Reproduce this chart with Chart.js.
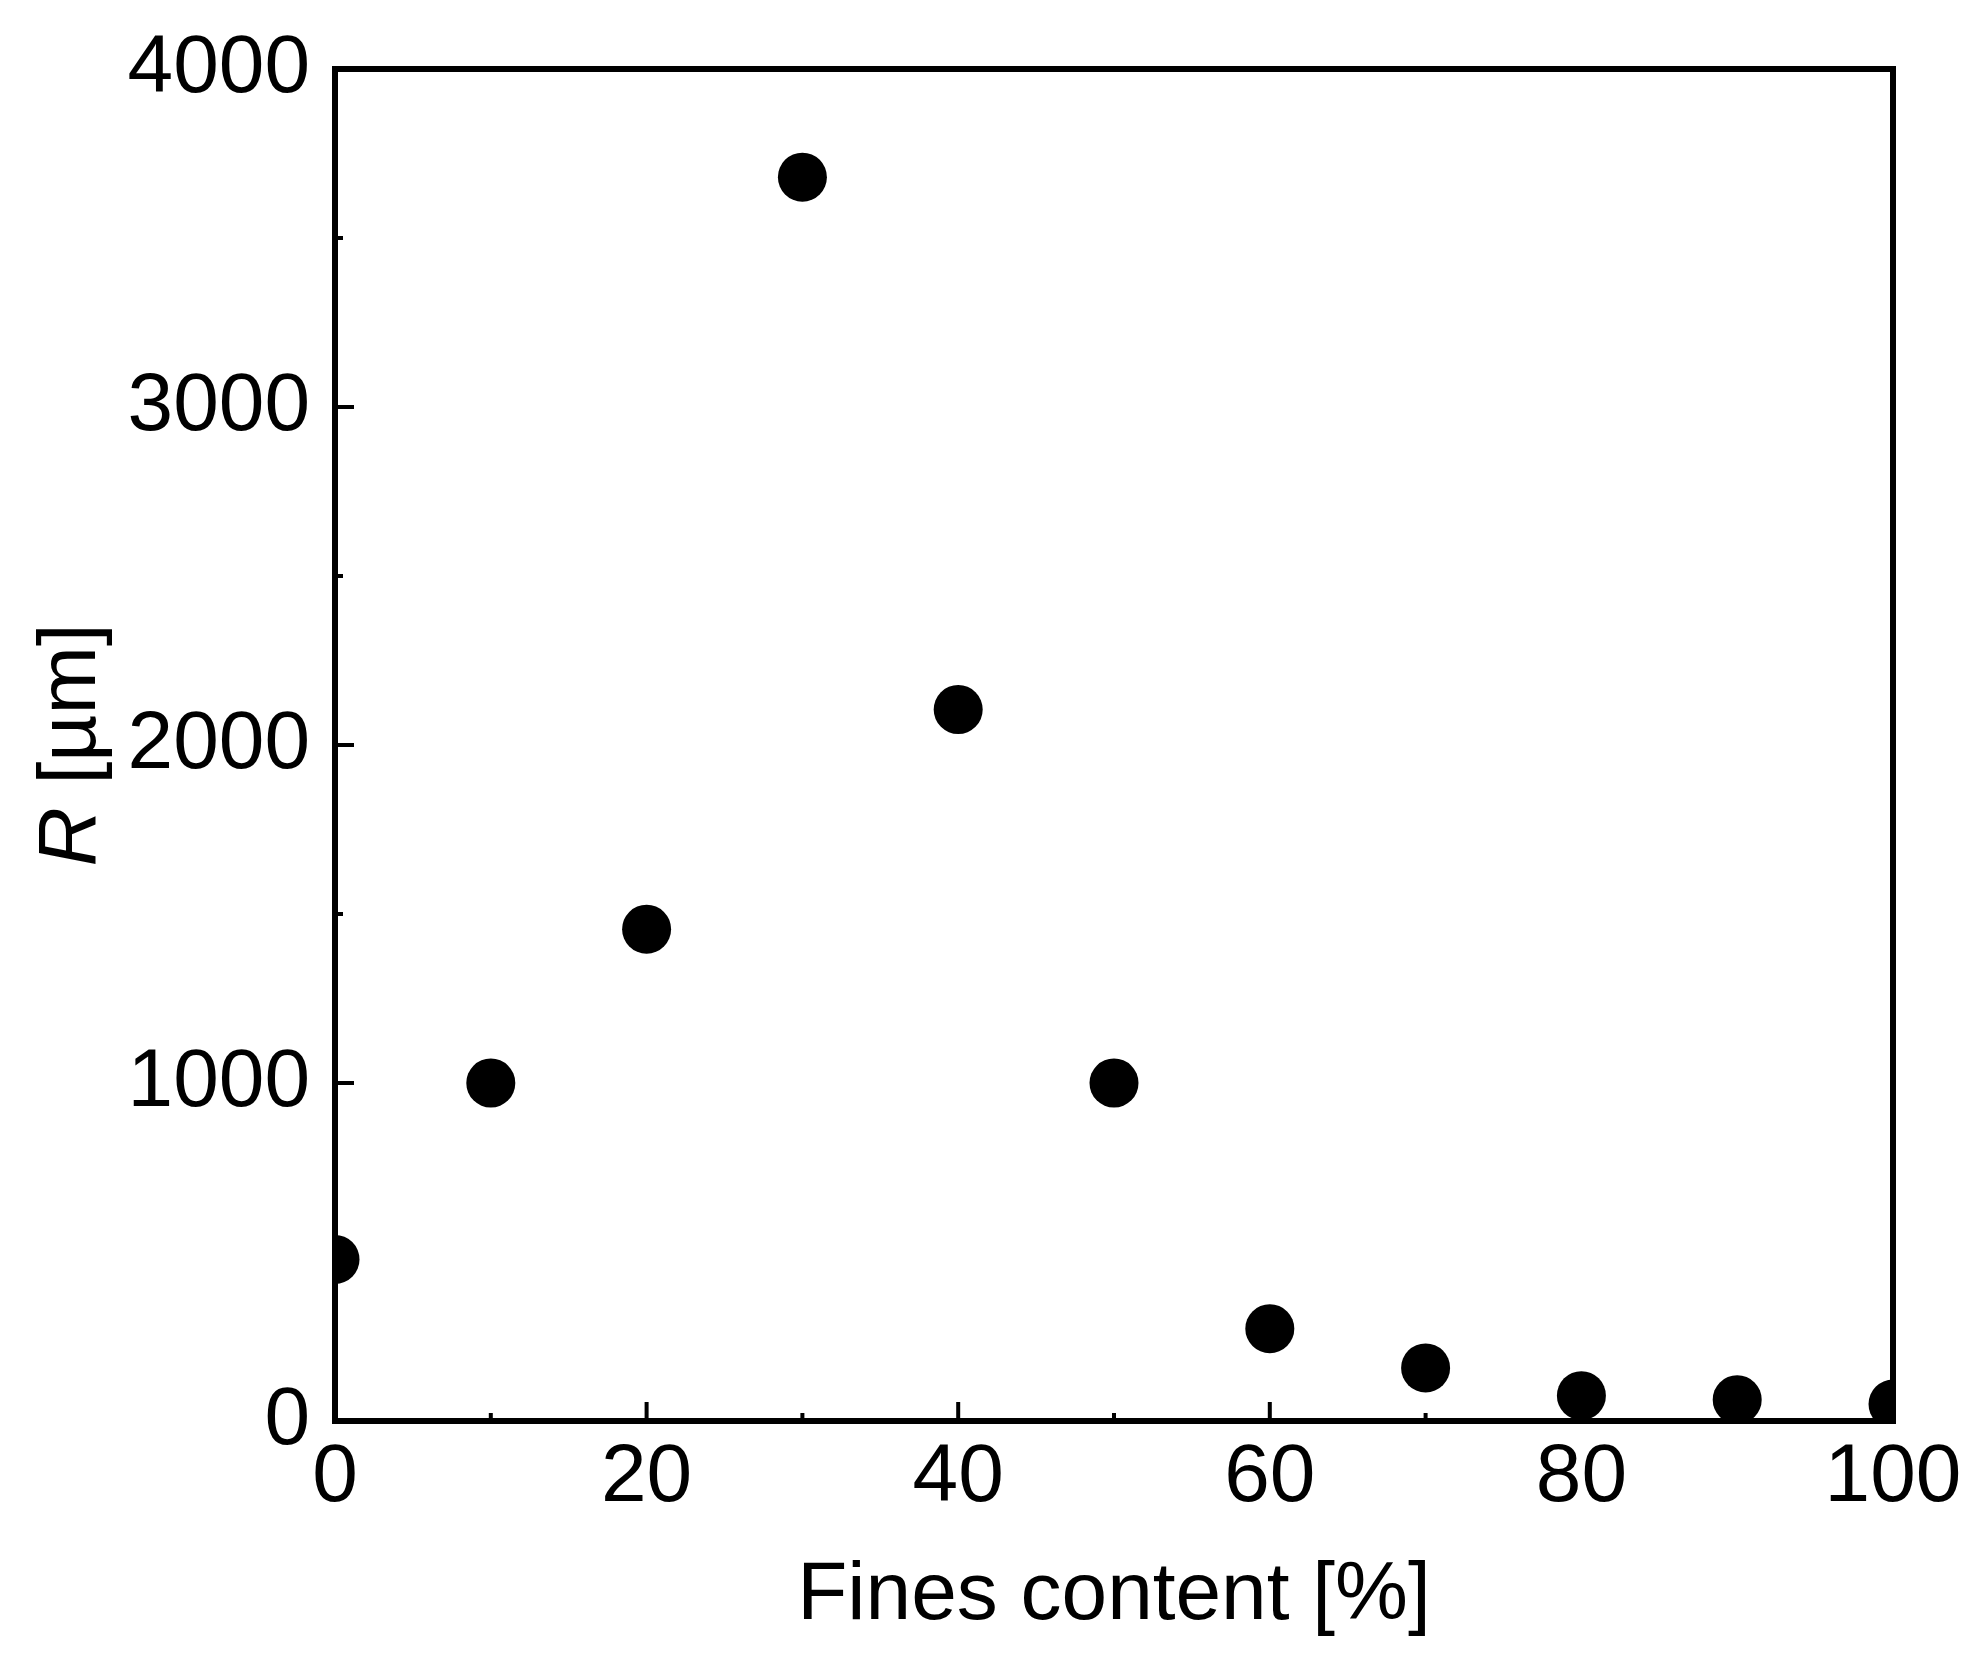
<!DOCTYPE html>
<html>
<head>
<meta charset="utf-8">
<script src="https://cdn.jsdelivr.net/npm/chart.js@4"></script>
<style>
  html, body { margin: 0; padding: 0; background: #fff; }
  #wrap { width: 1973px; height: 1667px; }
</style>
</head>
<body>
<div id="wrap"><canvas id="chart" width="1973" height="1667"></canvas></div>
<script>
// data
const finesContent = [0, 10, 20, 30, 40, 50, 60, 70, 80, 90, 100];
const rValues = [478, 1000, 1455, 3680, 2105, 1000, 273, 157, 75, 63, 50];

const xTickValues = [0, 20, 40, 60, 80, 100];
const yTickValues = [0, 1000, 2000, 3000, 4000];

const FONT = '"Liberation Sans", Arial, sans-serif';

// frame round the plot area plus inward ticks (major + minor)
const frameTicks = {
    id: 'frameTicks',
    afterDatasetsDraw(chart) {
        const { ctx, chartArea: a, scales } = chart;
        const x = scales.x, y = scales.y;
        ctx.save();
        ctx.strokeStyle = '#000';
        ctx.lineWidth = 4;
        ctx.beginPath();
        for (let v = 0; v <= 100; v += 10) {
            const px = x.getPixelForValue(v);
            const len = xTickValues.includes(v) ? 19 : 8;
            ctx.moveTo(px, a.bottom);
            ctx.lineTo(px, a.bottom - len);
        }
        for (let v = 0; v <= 4000; v += 500) {
            const py = y.getPixelForValue(v);
            const len = yTickValues.includes(v) ? 19 : 8;
            ctx.moveTo(a.left, py);
            ctx.lineTo(a.left + len, py);
        }
        ctx.stroke();
        ctx.lineWidth = 6;
        ctx.strokeRect(a.left, a.top, a.right - a.left, a.bottom - a.top);
        ctx.restore();
    }
};

// y title with italic R
const yTitle = {
    id: 'yTitle',
    afterDraw(chart) {
        const { ctx, chartArea: a } = chart;
        const italic = 'italic 82px ' + FONT;
        const normal = '82px ' + FONT;
        ctx.save();
        ctx.fillStyle = '#000';
        ctx.textBaseline = 'alphabetic';
        ctx.font = italic;
        const w1 = ctx.measureText('R').width;
        ctx.font = normal;
        const w2 = ctx.measureText(' [µm]').width;
        ctx.translate(95, (a.top + a.bottom) / 2);
        ctx.rotate(-Math.PI / 2);
        const start = -(w1 + w2) / 2;
        ctx.font = italic;
        ctx.fillText('R', start, 0);
        ctx.font = normal;
        ctx.fillText(' [µm]', start + w1, 0);
        ctx.restore();
    }
};

function initChart() {
    const ctx = document.getElementById('chart').getContext('2d');
    new Chart(ctx, {
        type: 'scatter',
        data: {
            datasets: [{
                data: finesContent.map((f, i) => ({ x: f, y: rValues[i] })),
                backgroundColor: '#000',
                borderWidth: 0,
                pointRadius: 24.5,
                pointHoverRadius: 24.5,
                clip: 3
            }]
        },
        options: {
            responsive: false,
            animation: false,
            devicePixelRatio: 1,
            layout: { padding: { top: 69, right: 80, left: 0, bottom: 0 } },
            plugins: {
                legend: { display: false },
                tooltip: { enabled: false }
            },
            scales: {
                x: {
                    type: 'linear',
                    min: 0,
                    max: 100,
                    afterBuildTicks: s => { s.ticks = xTickValues.map(v => ({ value: v })); },
                    afterFit: s => {
                        s.height = 246;
                        s.paddingLeft = 0;
                        s.paddingRight = 0;
                    },
                    grid: { display: false, drawTicks: false },
                    border: { display: false },
                    ticks: {
                        padding: 8,
                        color: '#000',
                        font: { family: FONT, size: 82 },
                        maxRotation: 0,
                        callback: v => String(v)
                    },
                    title: {
                        display: true,
                        text: 'Fines content [%]',
                        color: '#000',
                        font: { family: FONT, size: 82 },
                        padding: { top: 0, bottom: 21 }
                    }
                },
                y: {
                    type: 'linear',
                    min: 0,
                    max: 4000,
                    afterBuildTicks: s => { s.ticks = yTickValues.map(v => ({ value: v })); },
                    afterFit: s => {
                        s.width = 335;
                        s.paddingTop = 0;
                        s.paddingBottom = 0;
                    },
                    grid: { display: false, drawTicks: false },
                    border: { display: false },
                    ticks: {
                        padding: 25,
                        color: '#000',
                        font: { family: FONT, size: 82 },
                        callback: v => String(v)
                    }
                }
            }
        },
        plugins: [frameTicks, yTitle]
    });
}

document.addEventListener('DOMContentLoaded', initChart);
</script>
</body>
</html>
